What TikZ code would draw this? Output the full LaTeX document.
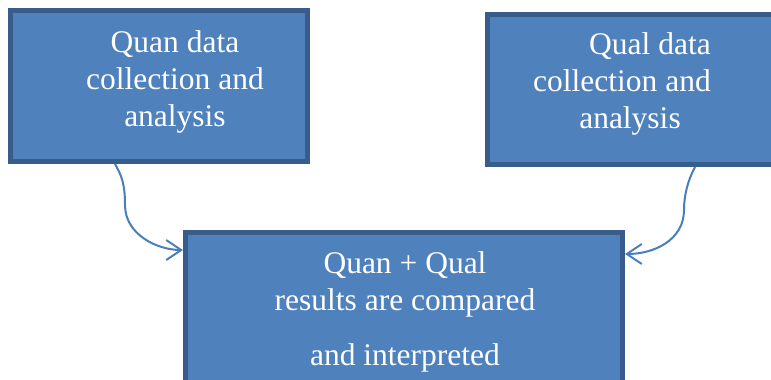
\documentclass[tikz,border=0pt]{standalone}
\usepackage{fontspec}
\setmainfont{Liberation Serif}
\usetikzlibrary{arrows.meta}
\definecolor{boxfill}{HTML}{4F81BD}
\definecolor{boxline}{HTML}{385D8A}
\definecolor{arrowc}{HTML}{4A7EBB}
\tikzset{
  bluebox/.style={draw=boxline, fill=boxfill, line width=5pt, rectangle, inner sep=0pt},
  boxtext/.style={text=white, align=center, font=\fontsize{31.5}{37}\selectfont, inner sep=0pt},
  conn/.style={draw=arrowc, line width=2pt, -{Straight Barb[length=15pt,width=20pt,line width=2pt]}}
}
\begin{document}
\begin{tikzpicture}[x=1pt,y=-1pt]
\useasboundingbox (0,0) rectangle (771,380);
\clip (0,0) rectangle (771,380);
\node[bluebox, minimum width=297pt, minimum height=151pt] (L) at (159,86) {};
\node[bluebox, minimum width=295pt, minimum height=150pt] (R) at (635,89.5) {};
\node[bluebox, minimum width=437pt, minimum height=170pt] (B) at (404,317.5) {};
\node[boxtext, anchor=base] (Lt) at (175,126) {Quan data\\collection and\\analysis};
\node[boxtext, anchor=base] (Rt) at (622,128) {\hspace*{56pt}Qual data\\collection and\\\hspace*{16pt}analysis};
\node[boxtext, anchor=base] (Bt) at (405,365) {Quan + Qual\\results are compared\\[18pt]and interpreted};
\draw[conn] ([xshift=-44pt]L.south) .. controls +(7,12) and +(0,-20) .. (125,205) .. controls +(0,30) and +(-25,0) .. ([yshift=-20pt]B.north west);
\draw[conn] ([xshift=60pt]R.south) .. controls +(-7,13) and +(0,-15) .. (684,210) .. controls +(0,30) and +(29,0) .. ([yshift=-24pt]B.north east);
\end{tikzpicture}
\end{document}
